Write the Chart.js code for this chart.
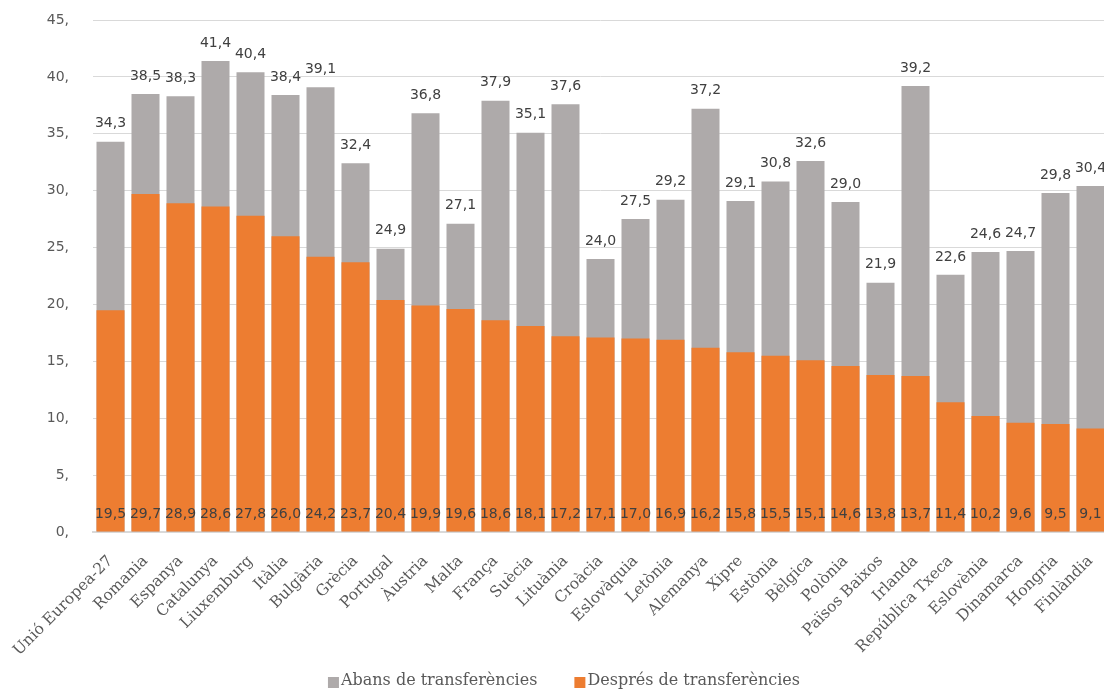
<!DOCTYPE html>
<html lang="ca">
<head>
<meta charset="utf-8">
<title>Taxa de risc de pobresa</title>
<script src="https://cdn.jsdelivr.net/npm/chart.js@4.4.1/dist/chart.umd.min.js"></script>
<style>
    html, body { margin: 0; padding: 0; background: #fff; overflow: hidden; }
    #wrap { width: 1128px; height: 689px; }
</style>
</head>
<body>
<div id="wrap"><canvas id="pobresa"></canvas></div>
<script>
const paisos = [
    "Unió Europea-27", "Romania", "Espanya", "Catalunya", "Liuxemburg", "Itàlia",
    "Bulgària", "Grècia", "Portugal", "Àustria", "Malta", "França", "Suècia",
    "Lituània", "Croàcia", "Eslovàquia", "Letònia", "Alemanya", "Xipre", "Estònia",
    "Bèlgica", "Polònia", "Països Baixos", "Irlanda", "República Txeca", "Eslovènia",
    "Dinamarca", "Hongria", "Finlàndia"
];

const abans = [
    34.3, 38.5, 38.3, 41.4, 40.4, 38.4, 39.1, 32.4, 24.9, 36.8, 27.1, 37.9, 35.1,
    37.6, 24.0, 27.5, 29.2, 37.2, 29.1, 30.8, 32.6, 29.0, 21.9, 39.2, 22.6, 24.6,
    24.7, 29.8, 30.4
];

const despres = [
    19.5, 29.7, 28.9, 28.6, 27.8, 26.0, 24.2, 23.7, 20.4, 19.9, 19.6, 18.6, 18.1,
    17.2, 17.1, 17.0, 16.9, 16.2, 15.8, 15.5, 15.1, 14.6, 13.8, 13.7, 11.4, 10.2,
    9.6, 9.5, 9.1
];

const yTicks = [0, 5, 10, 15, 20, 25, 30, 35, 40, 45];

const GRIS = "#aeaaaa";
const TARONJA = "#ed7d31";

const fmt = v => v.toFixed(1).replace(".", ",");

// etiquetes de valor: les grises damunt la barra, les taronges a peu de barra
const etiquetes = {
    id: "etiquetes",
    afterDatasetsDraw(chart) {
        const ctx = chart.ctx;
        const y0 = chart.scales.y.getPixelForValue(0);
        ctx.save();
        ctx.font = "14px 'DejaVu Sans'";
        ctx.fillStyle = "#404040";
        ctx.textAlign = "center";

        chart.getDatasetMeta(0).data.forEach((bar, i) => {
            ctx.textBaseline = "bottom";
            ctx.fillText(fmt(abans[i]), bar.x, bar.y - 11);
        });

        chart.getDatasetMeta(1).data.forEach((bar, i) => {
            ctx.textBaseline = "middle";
            ctx.fillText(fmt(despres[i]), bar.x, y0 - 18);
        });
        ctx.restore();
    }
};

// llegenda pròpia a peu de gràfic (quadre petit enganxat al text)
const llegenda = {
    id: "llegenda",
    afterDraw(chart) {
        const ctx = chart.ctx;
        const sets = chart.data.datasets;
        const box = 11, gapText = 2, gapItem = 37;
        ctx.save();
        ctx.font = "16px 'DejaVu Serif'";
        ctx.textBaseline = "middle";
        ctx.textAlign = "left";
        const widths = sets.map(d => ctx.measureText(d.label).width);
        const total = widths.reduce((s, w) => s + box + gapText + w, 0) + gapItem * (sets.length - 1);
        let x = chart.width / 2 - total / 2;
        const y = 681;
        sets.forEach((d, i) => {
            ctx.fillStyle = d.backgroundColor;
            ctx.fillRect(x, y - 4, box, box);
            x += box + gapText;
            ctx.fillStyle = "#595959";
            ctx.fillText(d.label, x, y);
            x += widths[i] + gapItem;
        });
        ctx.restore();
    }
};

new Chart(document.getElementById("pobresa"), {
    type: "bar",
    data: {
        labels: paisos,
        datasets: [
            {
                label: "Abans de transferències",
                data: abans,
                backgroundColor: GRIS,
                order: 2
            },
            {
                label: "Després de transferències",
                data: despres,
                backgroundColor: TARONJA,
                order: 1
            }
        ]
    },
    options: {
        responsive: true,
        maintainAspectRatio: false,
        animation: false,
        layout: {
            padding: { top: 20, right: 20, bottom: 17, left: 0 }
        },
        datasets: {
            bar: {
                grouped: false,
                categoryPercentage: 1,
                barPercentage: 0.8
            }
        },
        plugins: {
            legend: { display: false },
            tooltip: { enabled: false }
        },
        scales: {
            x: {
                grid: { display: false, drawTicks: false },
                border: { color: "#d9d9d9", width: 2 },
                ticks: {
                    color: "#595959",
                    font: { family: "'DejaVu Serif'", size: 15.5 },
                    minRotation: 45,
                    maxRotation: 45,
                    autoSkip: false,
                    padding: 20
                },
                afterFit(scale) {
                    scale.height = 140;
                    scale.paddingLeft = 0;
                    scale.paddingRight = 0;
                }
            },
            y: {
                min: 0,
                max: 45,
                afterBuildTicks(scale) {
                    scale.ticks = yTicks.map(v => ({ value: v }));
                },
                grid: { color: "#d9d9d9", drawTicks: false },
                border: { display: false },
                ticks: {
                    color: "#595959",
                    font: { family: "'DejaVu Sans'", size: 14 },
                    padding: 24,
                    callback: v => v + ","
                },
                afterFit(scale) {
                    scale.width = 93;
                    // el padding de les etiquetes no ha d'empènyer l'àrea del gràfic
                    scale.paddingTop = 0;
                    scale.paddingBottom = 0;
                }
            }
        }
    },
    plugins: [etiquetes, llegenda]
});
</script>
</body>
</html>
